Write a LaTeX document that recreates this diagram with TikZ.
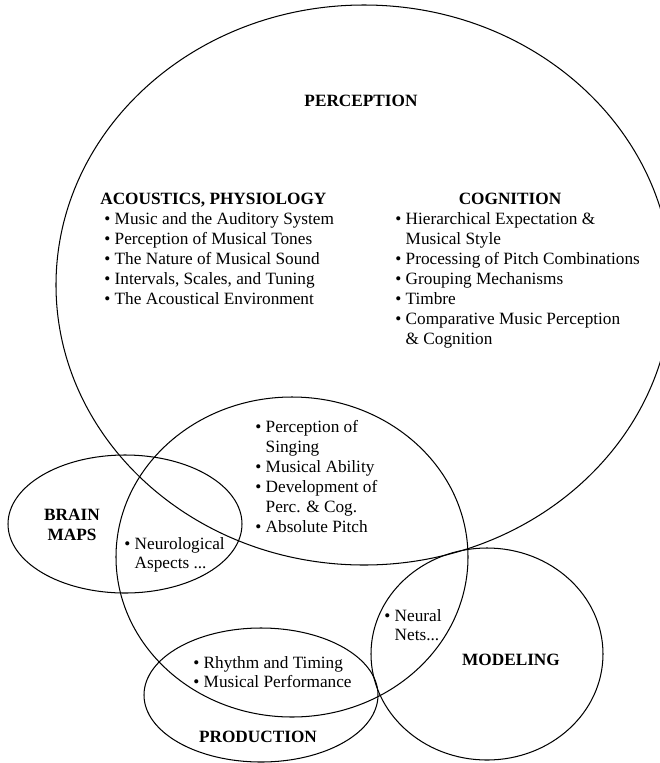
\documentclass[tikz,border=0pt]{standalone}
\usepackage{fontspec}
\setmainfont{Liberation Serif}
\begin{document}
\begin{tikzpicture}[x=0.58pt, y=-0.58pt,
  venn/.style={draw=black, line width=0.6pt},
  head/.style={font=\fontsize{10}{11.6}\selectfont\bfseries, inner sep=0pt, anchor=base},
  item/.style={font=\fontsize{10}{11.6}\selectfont, inner sep=0pt, anchor=base west}]

\clip (0, 0) rectangle (660, 763);

% the five fields
\draw[venn] (364, 285) ellipse [x radius=308, y radius=280];
\draw[venn] (292, 557) ellipse [x radius=176, y radius=160];
\draw[venn] (125, 524) ellipse [x radius=117, y radius=69];
\draw[venn] (261, 695) ellipse [x radius=117, y radius=67];
\draw[venn] (487, 654) ellipse [x radius=116, y radius=106];

% headings
\node[head] (perc) at (361, 106) {PERCEPTION};
\node[head, anchor=base west] (acou) at (100, 204) {ACOUSTICS, PHYSIOLOGY};
\node[head] (cogn) at (510, 204) {COGNITION};
\node[head, anchor=center, align=center] (brain) at (72, 525) {BRAIN\\MAPS};
\node[head] (model) at (511, 665) {MODELING};
\node[head] (prod) at (258, 742) {PRODUCTION};

% bullet lists
\foreach \t [count=\i] in {%
  • Music and the Auditory System,
  • Perception of Musical Tones,
  • The Nature of Musical Sound,
  {• Intervals, Scales, and Tuning},
  • The Acoustical Environment}
  \node[item] (ac\i) at (104, {204+20*\i}) {\t};

\foreach \t [count=\i] in {%
  • Hierarchical Expectation \&,
  \hphantom{• }Musical Style,
  • Processing of Pitch Combinations,
  • Grouping Mechanisms,
  • Timbre,
  • Comparative Music Perception,
  \hphantom{• }\& Cognition}
  \node[item] (cg\i) at (395, {204+20*\i}) {\t};

\foreach \t [count=\i] in {%
  • Perception of,
  \hphantom{• }Singing,
  • Musical Ability,
  • Development of,
  \hphantom{• }Perc. \& Cog.,
  • Absolute Pitch}
  \node[item] (sg\i) at (255, {412+20*\i}) {\t};

\node[item] (nr1) at (124, 549) {• Neurological};
\node[item] (nr2) at (124, 568) {\hphantom{• }Aspects ...};

\node[item] (nn1) at (384, 621) {• Neural};
\node[item] (nn2) at (384, 640) {\hphantom{• }Nets...};

\foreach \t [count=\i] in {• Rhythm and Timing, • Musical Performance}
  \node[item] (rt\i) at (193, {649+19*\i}) {\t};

\end{tikzpicture}
\end{document}
